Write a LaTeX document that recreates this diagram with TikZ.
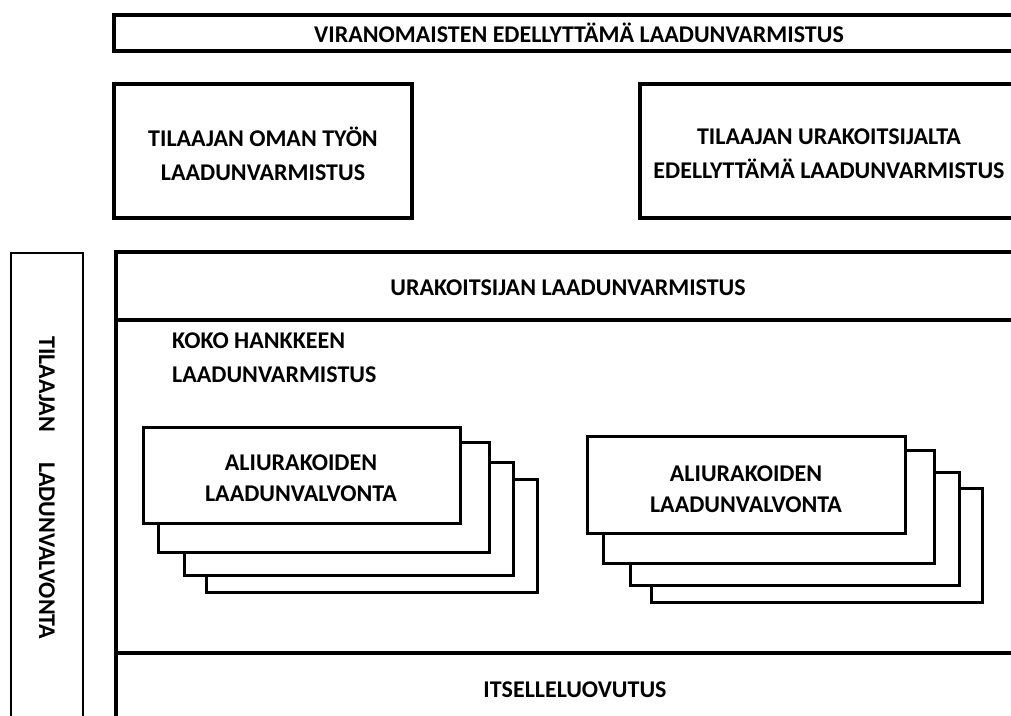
\documentclass[tikz,border=0pt]{standalone}
\usepackage{fontspec}
\setmainfont{Carlito}
\begin{document}
\begin{tikzpicture}[x=1pt,y=-1pt,
  outer/.style={draw=black,line width=3.6pt},
  thin/.style={draw=black,line width=2.4pt},
  stackbox/.style={draw=black,fill=white,line width=3pt},
  lbl/.style={font=\fontsize{24}{34}\selectfont\bfseries,align=center,inner sep=0pt},
  lbls/.style={font=\fontsize{24}{30.5}\selectfont\bfseries,align=center,inner sep=0pt},
  lbll/.style={font=\fontsize{24}{34}\selectfont\bfseries,align=left,inner sep=0pt}]
\useasboundingbox (0,0) rectangle (1011,715);
\clip (0,0) rectangle (1011,715);
\fill[white] (0,0) rectangle (1011,715);
% top bar
\draw[outer] (114,15) rectangle (1040,51);
\node[lbl] (vir) at (579,33) {VIRANOMAISTEN EDELLYTTÄMÄ LAADUNVARMISTUS};
% two middle boxes
\draw[outer] (114,84) rectangle (412,218);
\node[lbl] (oma) at (263,154) {TILAAJAN OMAN TYÖN\\LAADUNVARMISTUS};
\draw[outer] (640,84) rectangle (1040,218);
\node[lbl] (ura) at (829,154) {TILAAJAN URAKOITSIJALTA\\EDELLYTTÄMÄ LAADUNVARMISTUS};
% left vertical box
\draw[thin] (11,253) rectangle (83,760);
\node[lbl,rotate=-90] (lv) at (47,488) {TILAAJAN\hspace{30pt}LADUNVALVONTA};
% big box
\draw[outer] (116,252) rectangle (1040,760);
\draw[outer] (116,320) -- (1040,320);
\draw[outer] (116,653) -- (1040,653);
\node[lbl] (urak) at (568,288) {URAKOITSIJAN LAADUNVARMISTUS};
\node[lbll,anchor=west] (koko) at (172,358) {KOKO HANKKEEN\\LAADUNVARMISTUS};
\node[lbl] (itse) at (575,690) {ITSELLELUOVUTUS};
% left stack
\draw[stackbox] (206,479) rectangle (537,592);
\draw[stackbox] (184,462) rectangle (513,575);
\draw[stackbox] (158,442) rectangle (489,552);
\draw[stackbox] (143,427) rectangle (460,523);
\node[lbls] (ali1) at (301,478) {ALIURAKOIDEN\\LAADUNVALVONTA};
% right stack
\draw[stackbox] (651,488) rectangle (982,602);
\draw[stackbox] (630,472) rectangle (959,585);
\draw[stackbox] (603,450) rectangle (934,563);
\draw[stackbox] (587,436) rectangle (905,533);
\node[lbls] (ali2) at (746,489) {ALIURAKOIDEN\\LAADUNVALVONTA};
\end{tikzpicture}
\end{document}
